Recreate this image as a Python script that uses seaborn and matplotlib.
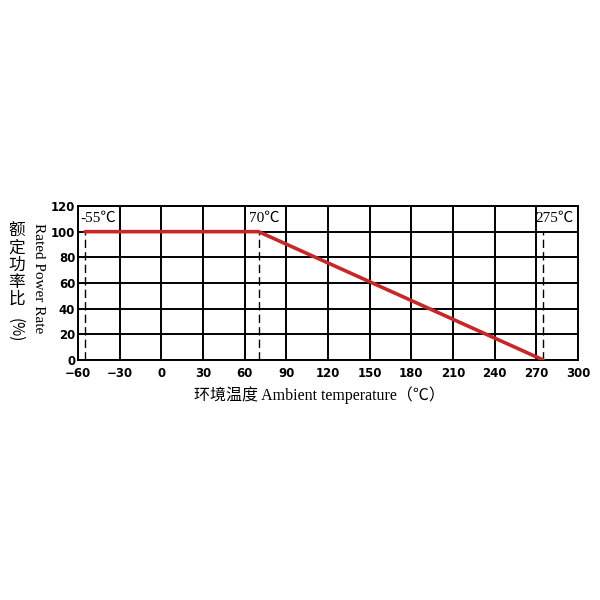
import matplotlib
matplotlib.use("Agg")
import matplotlib.pyplot as plt
import seaborn as sns
import pandas as pd

temps = [-55, 70, 275]
power = [100, 100, 0]
marker_temps = [-55, 70, 275]
marker_labels = ["-55℃", "70℃", "275℃"]
xticks = [-60, -30, 0, 30, 60, 90, 120, 150, 180, 210, 240, 270, 300]
yticks = [0, 20, 40, 60, 80, 100, 120]

sns.set_theme(style="white")
plt.rcParams['font.family'] = ['DejaVu Sans', 'Noto Sans CJK SC']

fig = plt.figure(figsize=(6, 6), dpi=100)
ax = fig.add_axes([0.13, 0.4, 0.8333, 0.2567])

df = pd.DataFrame({"t": temps, "p": power})
sns.lineplot(data=df, x="t", y="p", ax=ax, color="#c62828", linewidth=2.6, zorder=5)

for t in marker_temps:
    ax.plot([t, t], [0, 100], color="black", linewidth=1.0, linestyle=(0, (6, 3)), zorder=3)

ax.set_xlim(-60, 300)
ax.set_ylim(0, 120)
ax.set_xticks(xticks)
ax.set_yticks(yticks)
ax.set_xticklabels([str(v).replace("-", "−") for v in xticks], fontsize=8.5, fontweight="bold")
ax.set_yticklabels([str(v) for v in yticks], fontsize=8.5, fontweight="bold")
ax.grid(True, color="black", linewidth=1.4)
for s in ax.spines.values():
    s.set_color("black")
    s.set_linewidth(1.4)
ax.tick_params(axis="x", length=0, pad=5, colors="black")
ax.tick_params(axis="y", length=0, pad=2, colors="black")
ax.set_xlabel("")
ax.set_ylabel("")

serif = ['Liberation Serif', 'Noto Sans CJK SC']
label_x = [-58, 63, 269]
for lx, lab in zip(label_x, marker_labels):
    ax.text(lx, 110, lab, fontsize=11, family=serif, ha="left", va="center", color="black")

fig.text(0.532, 0.342, "环境温度 Ambient temperature（℃）", fontsize=11.5, family=serif,
         ha="center", va="center", color="black")
fig.text(0.064, 0.537, "Rated Power Rate", fontsize=11, family=serif, rotation=270,
         ha="center", va="center", color="black")
fig.text(0.028, 0.558, "额\n定\n功\n率\n比", fontsize=12, family=['Noto Sans CJK SC'],
         ha="center", va="center", linespacing=1.0, color="black")
fig.text(0.026, 0.45, "(%)", fontsize=11, family=['Noto Sans CJK SC'], rotation=270,
         ha="center", va="center", color="black")

fig.savefig("out.png", dpi=100)
